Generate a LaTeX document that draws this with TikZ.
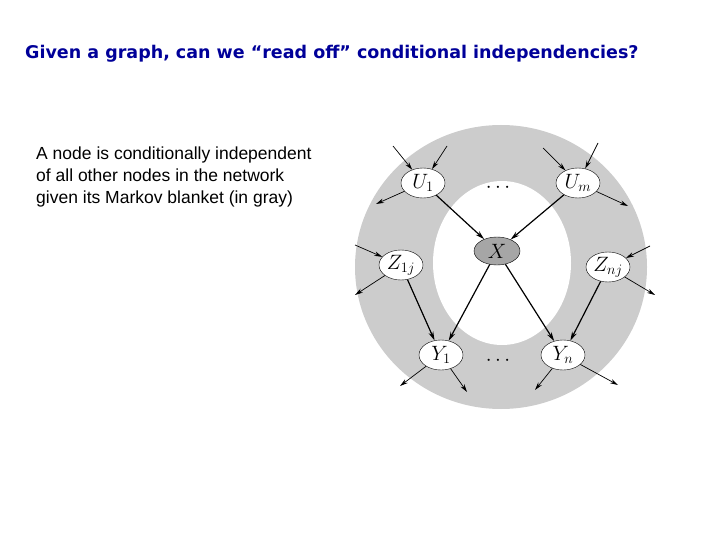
\documentclass[tikz,border=0pt]{standalone}
\usepackage{fontspec}
\setmainfont{Liberation Sans}
\newfontfamily\titlefont{DejaVu Sans}
\usetikzlibrary{arrows.meta,shapes.geometric}
\begin{document}
\begin{tikzpicture}[x=1pt,y=-1pt,
  nf/.style={font=\fontsize{20}{24}\selectfont},
  wn/.style={ellipse,draw,fill=white,minimum width=44pt,minimum height=30pt,inner sep=0pt,nf},
  ar/.style={-{Stealth[length=9pt,width=5pt]},line width=1.2pt},
  ear/.style={-{Stealth[length=8pt,width=4.5pt]},line width=0.7pt}]
\useasboundingbox (0,0) rectangle (720,540);
\node[anchor=west,font=\titlefont\bfseries\fontsize{17.5}{20}\selectfont,text=blue!60!black,inner sep=0pt] (t) at (25,54) {Given a graph, can we “read off” conditional independencies?};
\node[anchor=north west,align=left,font=\fontsize{17.5}{22}\selectfont,inner sep=0pt] (b) at (36,147) {A node is conditionally independent\\of all other nodes in the network\\given its Markov blanket (in gray)};
\fill[gray!40] (501,267) ellipse [x radius=146, y radius=142];
\fill[white] (502,263) ellipse [x radius=69, y radius=82];
\node[wn] (u1) at (423,183) {$U_1$};
\node[wn] (um) at (578,183) {$U_m$};
\node[wn] (z1) at (401,265) {$Z_{1j}$};
\node[wn] (zn) at (608,267) {$Z_{nj}$};
\node[wn] (y1) at (441,355) {$Y_1$};
\node[wn] (yn) at (563,355) {$Y_n$};
\node[ellipse,draw,fill=gray!70,minimum width=46pt,minimum height=28pt,inner sep=0pt,nf] (x) at (497,251) {$X$};
\node[nf] (d1) at (498,188) {$\cdots$};
\node[nf] (d2) at (498,361) {$\cdots$};
\draw[ar] (u1) -- (x); \draw[ar] (um) -- (x);
\draw[ar] (x) -- (y1); \draw[ar] (x) -- (yn);
\draw[ar] (z1) -- (y1); \draw[ar] (zn) -- (yn);
\coordinate (a1) at (393,146); \coordinate (a2) at (447,146); \coordinate (a3) at (376,204);
\coordinate (b1) at (543,148); \coordinate (b2) at (598,143); \coordinate (b3) at (628,206);
\coordinate (c1) at (355,245); \coordinate (c2) at (355,295);
\coordinate (e1) at (650,246); \coordinate (e2) at (655,295);
\coordinate (f1) at (400,386); \coordinate (f2) at (467,392);
\coordinate (g1) at (535,390); \coordinate (g2) at (618,385);
\draw[ear] (a1) -- (u1); \draw[ear] (a2) -- (u1); \draw[ear] (u1) -- (a3);
\draw[ear] (b1) -- (um); \draw[ear] (b2) -- (um); \draw[ear] (um) -- (b3);
\draw[ear] (c1) -- (z1); \draw[ear] (z1) -- (c2);
\draw[ear] (e1) -- (zn); \draw[ear] (zn) -- (e2);
\draw[ear] (y1) -- (f1); \draw[ear] (y1) -- (f2);
\draw[ear] (yn) -- (g1); \draw[ear] (yn) -- (g2);
\end{tikzpicture}
\end{document}
